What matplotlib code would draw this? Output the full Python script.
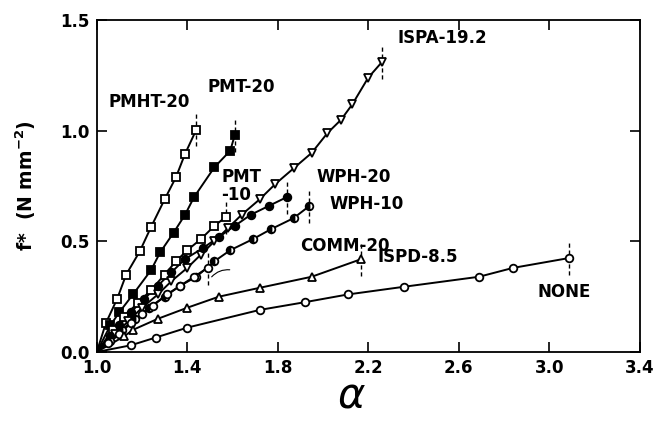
import matplotlib
matplotlib.use("Agg")
import matplotlib.pyplot as plt

plt.rcParams['font.family'] = ['DejaVu Sans']

# ---- data ----
pmht20_x = [1.04, 1.09, 1.13, 1.19, 1.24, 1.30, 1.35, 1.39, 1.44]
pmht20_y = [0.13, 0.24, 0.35, 0.455, 0.565, 0.69, 0.79, 0.895, 1.005]

pmt20_x = [1.06, 1.10, 1.16, 1.24, 1.28, 1.34, 1.39, 1.43, 1.52, 1.59, 1.61]
pmt20_y = [0.12, 0.18, 0.26, 0.37, 0.45, 0.54, 0.62, 0.70, 0.835, 0.91, 0.98]

pmt10_x = [1.07, 1.12, 1.18, 1.24, 1.30, 1.35, 1.40, 1.46, 1.52, 1.57]
pmt10_y = [0.10, 0.16, 0.22, 0.28, 0.35, 0.41, 0.46, 0.51, 0.57, 0.61]

ispa_x = [1.08, 1.14, 1.20, 1.27, 1.33, 1.40, 1.46, 1.52, 1.58, 1.64, 1.72, 1.79,
          1.87, 1.95, 2.02, 2.08, 2.13, 2.20, 2.26]
ispa_y = [0.08, 0.14, 0.20, 0.26, 0.32, 0.38, 0.44, 0.50, 0.56, 0.62, 0.69, 0.76,
          0.83, 0.90, 0.99, 1.05, 1.12, 1.24, 1.31]

wph20_x = [1.06, 1.10, 1.15, 1.21, 1.27, 1.33, 1.39, 1.47, 1.54, 1.61, 1.68, 1.76, 1.84]
wph20_y = [0.07, 0.12, 0.18, 0.24, 0.30, 0.36, 0.42, 0.47, 0.52, 0.57, 0.62, 0.66, 0.70]

wph10_x = [1.06, 1.11, 1.17, 1.23, 1.30, 1.37, 1.44, 1.52, 1.59, 1.69, 1.77, 1.87, 1.94]
wph10_y = [0.05, 0.10, 0.15, 0.20, 0.25, 0.30, 0.34, 0.41, 0.46, 0.51, 0.555, 0.605, 0.66]

comm20_x = [1.05, 1.10, 1.15, 1.20, 1.25, 1.31, 1.37, 1.43, 1.49]
comm20_y = [0.04, 0.08, 0.13, 0.17, 0.21, 0.26, 0.30, 0.34, 0.38]

ispd_x = [1.12, 1.16, 1.27, 1.40, 1.54, 1.72, 1.95, 2.17]
ispd_y = [0.07, 0.10, 0.15, 0.20, 0.25, 0.29, 0.34, 0.42]

none_x = [1.15, 1.26, 1.40, 1.72, 1.92, 2.11, 2.36, 2.69, 2.84, 3.09]
none_y = [0.03, 0.065, 0.11, 0.19, 0.225, 0.26, 0.295, 0.34, 0.38, 0.425]

series = [
    ("PMHT-20", pmht20_x, pmht20_y, 's', 'none', 'full'),
    ("PMT-20", pmt20_x, pmt20_y, 's', 'black', 'full'),
    ("PMT-10", pmt10_x, pmt10_y, 's', 'none', 'full'),
    ("ISPA-19.2", ispa_x, ispa_y, 'v', 'none', 'full'),
    ("WPH-20", wph20_x, wph20_y, 'o', 'black', 'full'),
    ("WPH-10", wph10_x, wph10_y, 'o', 'black', 'left'),
    ("COMM-20", comm20_x, comm20_y, 'o', 'none', 'full'),
    ("ISPD-8.5", ispd_x, ispd_y, '^', 'none', 'full'),
    ("NONE", none_x, none_y, 'o', 'none', 'full'),
]

labels = [
    ("PMHT-20", 1.05, 1.13),
    ("PMT-20", 1.49, 1.20),
    ("PMT\n-10", 1.55, 0.75),
    ("ISPA-19.2", 2.33, 1.42),
    ("WPH-20", 1.97, 0.79),
    ("WPH-10", 2.03, 0.67),
    ("COMM-20", 1.90, 0.48),
    ("ISPD-8.5", 2.24, 0.43),
    ("NONE", 2.95, 0.27),
]

fig = plt.figure(figsize=(6.54, 4.21), dpi=100)
ax = fig.add_axes([0.148, 0.164, 0.830, 0.788])

for name, xs, ys, m, fc, fs in series:
    px = [1.0] + list(xs)
    py = [0.0] + list(ys)
    ax.plot(px, py, '-', color='black', lw=1.4, zorder=2)
    kw = dict(marker=m, ms=5.5, mec='black', mew=1.3, ls='none', zorder=3)
    if fs == 'left':
        ax.plot(xs, ys, mfc='black', fillstyle='left', markerfacecoloralt='white', **kw)
    elif fc == 'none':
        ax.plot(xs, ys, mfc='white', **kw)
    else:
        ax.plot(xs, ys, mfc='black', **kw)
    # dashed end marker line
    ax.plot([xs[-1], xs[-1]], [ys[-1] - 0.075, ys[-1] + 0.075], ls=(0, (3, 2)),
            color='black', lw=1.0, zorder=1)

for text, tx, ty in labels:
    ax.text(tx, ty, text, fontsize=12, fontweight='bold', ha='left', va='center',
            linespacing=1.05)

# small squiggle pointing to COMM-20 end
ax.annotate("", xy=(1.50, 0.33), xytext=(1.60, 0.37),
            arrowprops=dict(arrowstyle='-', color='black', lw=0.8,
                            connectionstyle='arc3,rad=0.3'))

ax.set_xlim(1.0, 3.4)
ax.set_ylim(0.0, 1.5)
ax.set_xticks([1.0, 1.4, 1.8, 2.2, 2.6, 3.0, 3.4])
ax.set_yticks([0.0, 0.5, 1.0, 1.5])
ax.set_xticklabels(['1.0', '1.4', '1.8', '2.2', '2.6', '3.0', '3.4'])
ax.set_yticklabels(['0.0', '0.5', '1.0', '1.5'])
ax.tick_params(direction='in', top=True, right=True, length=7, width=1.2,
               labelsize=12, pad=5)
for lab in ax.get_xticklabels() + ax.get_yticklabels():
    lab.set_fontweight('bold')
for s in ax.spines.values():
    s.set_linewidth(1.3)

ax.set_ylabel(r"f*  (N mm$^{\mathbf{-2}}$)", fontsize=13.5, fontweight='bold')
ax.yaxis.set_label_coords(-0.108, 0.5)
ax.set_xlabel(r"$\alpha$", fontsize=30)
ax.xaxis.set_label_coords(0.47, -0.068, transform=ax.transAxes)
ax.xaxis.label.set_va('top')

fig.savefig("out.png", dpi=100)
